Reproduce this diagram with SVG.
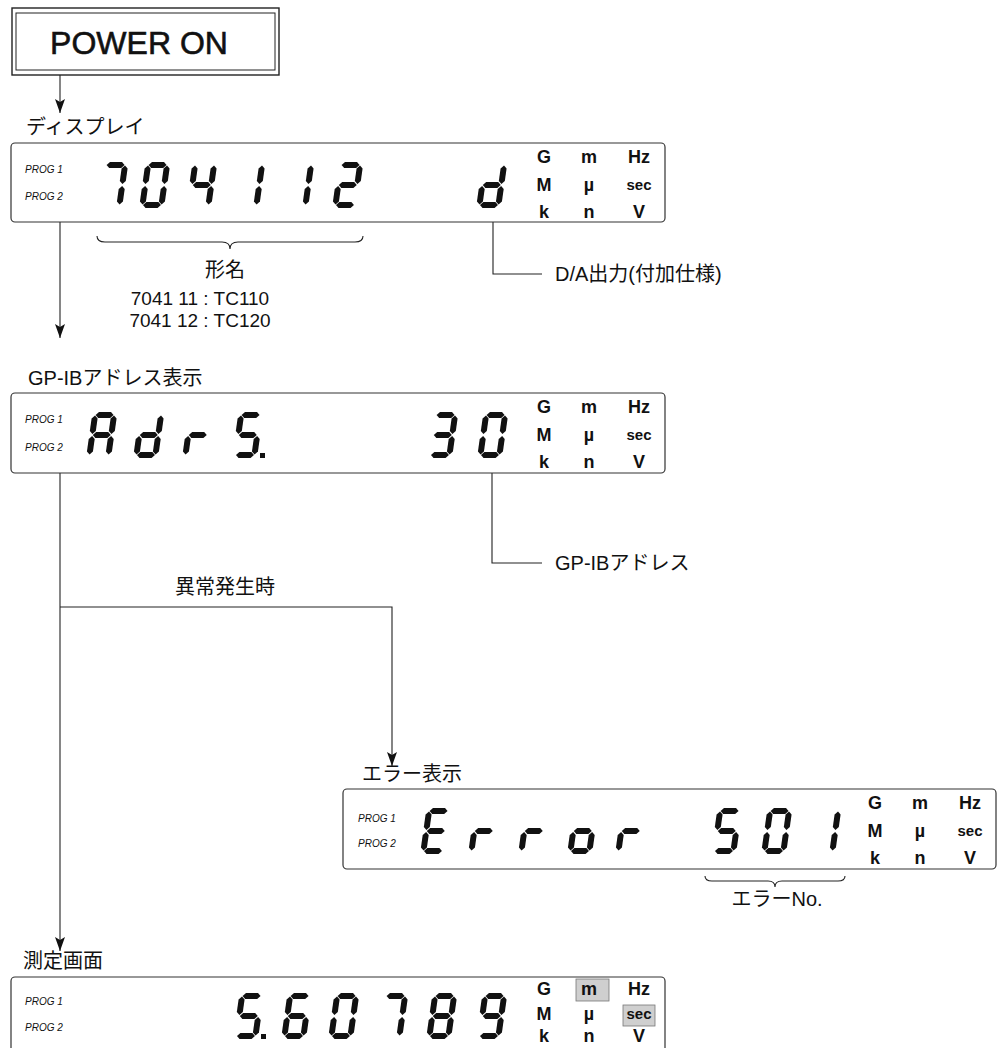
<svg xmlns="http://www.w3.org/2000/svg" xmlns:xlink="http://www.w3.org/1999/xlink" width="999" height="1048" viewBox="0 0 999 1048">
<style>
.lbl{font-family:"Liberation Sans","Noto Sans CJK JP",sans-serif;font-size:20px;fill:#111}
.prog{font-family:"Liberation Sans",sans-serif;font-size:10px;font-style:italic;fill:#111}
.unit{font-family:"Liberation Sans",sans-serif;font-size:18px;font-weight:bold;fill:#111;text-anchor:middle}
.sec{font-size:15px}
.lcd{fill:#fff;stroke:#333;stroke-width:1.2}
.seg{fill:#111}
.conn{stroke:#222;stroke-width:1.1;fill:none}
.arr{marker-end:url(#ah)}
.hl{fill:#cfcfcf;stroke:#777;stroke-width:0.8}
</style>
<defs>
<marker id="ah" viewBox="0 0 14 10" refX="14" refY="5" markerWidth="14" markerHeight="10" markerUnits="userSpaceOnUse" orient="auto">
<path d="M0,0 L14,5 L0,10 L3,5 z" fill="#111"/>
</marker>
<polygon id="sa" class="seg" points="3.5,3 6.5,0 18.5,0 21.5,3 18.5,6 6.5,6"/>
<polygon id="sg" class="seg" points="3.5,23 6.5,20 18.5,20 21.5,23 18.5,26 6.5,26"/>
<polygon id="sd" class="seg" points="3.5,43 6.5,40 18.5,40 21.5,43 18.5,46 6.5,46"/>
<polygon id="sf" class="seg" points="3,3.5 6,6.5 6,19 3,22 0,19 0,6.5"/>
<polygon id="sb" class="seg" points="22,3.5 25,6.5 25,19 22,22 19,19 19,6.5"/>
<polygon id="se" class="seg" points="3,24 6,27 6,39.5 3,42.5 0,39.5 0,27"/>
<polygon id="sc" class="seg" points="22,24 25,27 25,39.5 22,42.5 19,39.5 19,27"/>
<g id="d0"><use href="#sa"/><use href="#sb"/><use href="#sc"/><use href="#sd"/><use href="#se"/><use href="#sf"/></g>
<g id="d1"><use href="#sb"/><use href="#sc"/></g>
<g id="d2"><use href="#sa"/><use href="#sb"/><use href="#sg"/><use href="#se"/><use href="#sd"/></g>
<g id="d3"><use href="#sa"/><use href="#sb"/><use href="#sg"/><use href="#sc"/><use href="#sd"/></g>
<g id="d4"><use href="#sf"/><use href="#sg"/><use href="#sb"/><use href="#sc"/></g>
<g id="d5"><use href="#sa"/><use href="#sf"/><use href="#sg"/><use href="#sc"/><use href="#sd"/></g>
<g id="d6"><use href="#sa"/><use href="#sf"/><use href="#sg"/><use href="#se"/><use href="#sc"/><use href="#sd"/></g>
<g id="d7"><use href="#sa"/><use href="#sb"/><use href="#sc"/></g>
<g id="d8"><use href="#sa"/><use href="#sb"/><use href="#sc"/><use href="#sd"/><use href="#se"/><use href="#sf"/><use href="#sg"/></g>
<g id="d9"><use href="#sa"/><use href="#sb"/><use href="#sc"/><use href="#sd"/><use href="#sf"/><use href="#sg"/></g>
<g id="dA"><use href="#sa"/><use href="#sb"/><use href="#sc"/><use href="#se"/><use href="#sf"/><use href="#sg"/></g>
<g id="dd"><use href="#sb"/><use href="#sc"/><use href="#sd"/><use href="#se"/><use href="#sg"/></g>
<g id="dr"><use href="#se"/><use href="#sg"/></g>
<g id="dE"><use href="#sa"/><use href="#sf"/><use href="#sg"/><use href="#se"/><use href="#sd"/></g>
<g id="do"><use href="#sc"/><use href="#sd"/><use href="#se"/><use href="#sg"/></g>
</defs>

<g id="power-on">
<rect x="12" y="8" width="267" height="67" fill="#fff" stroke="#222" stroke-width="1.4"/>
<rect x="16" y="13" width="259" height="57" fill="none" stroke="#222" stroke-width="1"/>
<text x="139" y="54" text-anchor="middle" style="font-family:'Liberation Sans',sans-serif;font-size:32px;fill:#111;stroke:#111;stroke-width:0.6">POWER ON</text>
</g>

<g id="connectors">
<line class="conn arr" x1="60" y1="75" x2="60" y2="113"/>
<line class="conn arr" x1="60" y1="222" x2="60" y2="338"/>
<line class="conn arr" x1="60" y1="473" x2="60" y2="951"/>
<polyline class="conn arr" points="60,607 392,607 392,766"/>
<polyline class="conn" points="493,214 493,274 542,274"/>
<polyline class="conn" points="492,463 492,563 542,563"/>
<path class="conn" d="M97,236 Q97,242 105,242 L222,242 Q230,242 230,249 Q230,242 238,242 L355,242 Q363,242 363,236"/>
<path class="conn" d="M705,876 Q705,881 712,881 L768,881 Q775,881 775,887 Q775,881 782,881 L838,881 Q845,881 845,876"/>
</g>

<g id="display-model">
<text class="lbl" x="26" y="134">ディスプレイ</text>
<rect class="lcd" x="11" y="143" width="654" height="79" rx="4"/>
<text class="prog" x="25" y="173">PROG 1</text>
<text class="prog" x="25" y="200">PROG 2</text>
<use href="#d7" transform="translate(103.5,162) skewX(-8)"/>
<use href="#d0" transform="translate(145.5,162) skewX(-8)"/>
<use href="#d4" transform="translate(192.5,162) skewX(-8)"/>
<use href="#d1" transform="translate(240.5,162) skewX(-8)"/>
<use href="#d1" transform="translate(289.5,162) skewX(-8)"/>
<use href="#d2" transform="translate(338.5,162) skewX(-8)"/>
<use href="#dd" transform="translate(482.5,162) skewX(-8)"/>
<text class="unit" x="544" y="163">G</text><text class="unit" x="589" y="163">m</text><text class="unit" x="639" y="163">Hz</text>
<text class="unit" x="544" y="191">M</text><text class="unit" x="589" y="191">µ</text><text class="unit sec" x="639" y="190">sec</text>
<text class="unit" x="544" y="218">k</text><text class="unit" x="589" y="218">n</text><text class="unit" x="639" y="218">V</text>
<text class="lbl" x="225" y="277" text-anchor="middle">形名</text>
<text class="lbl" x="200" y="305" text-anchor="middle" style="font-size:19px">7041 11 : TC110</text>
<text class="lbl" x="200" y="327" text-anchor="middle" style="font-size:19px">7041 12 : TC120</text>
<text class="lbl" x="555" y="281">D/A出力(付加仕様)</text>
</g>

<g id="display-gpib">
<text class="lbl" x="28" y="385">GP-IBアドレス表示</text>
<rect class="lcd" x="11" y="393" width="654" height="80" rx="4"/>
<text class="prog" x="25" y="423">PROG 1</text>
<text class="prog" x="25" y="451">PROG 2</text>
<use href="#dA" transform="translate(92.5,412) skewX(-8)"/>
<use href="#dd" transform="translate(139.5,412) skewX(-8)"/>
<use href="#dr" transform="translate(188.5,412) skewX(-8)"/>
<use href="#d5" transform="translate(238.5,412) skewX(-8)"/>
<rect class="seg" x="260" y="453" width="5" height="5"/>
<use href="#d3" transform="translate(433.5,412) skewX(-8)"/>
<use href="#d0" transform="translate(483.5,412) skewX(-8)"/>
<text class="unit" x="544" y="413">G</text><text class="unit" x="589" y="413">m</text><text class="unit" x="639" y="413">Hz</text>
<text class="unit" x="544" y="441">M</text><text class="unit" x="589" y="441">µ</text><text class="unit sec" x="639" y="440">sec</text>
<text class="unit" x="544" y="468">k</text><text class="unit" x="589" y="468">n</text><text class="unit" x="639" y="468">V</text>
<text class="lbl" x="555" y="570">GP-IBアドレス</text>
</g>

<g id="branch-label">
<text class="lbl" x="175" y="594">異常発生時</text>
</g>

<g id="display-error">
<text class="lbl" x="362" y="781">エラー表示</text>
<rect class="lcd" x="343" y="789" width="653" height="80" rx="4"/>
<text class="prog" x="358" y="822">PROG 1</text>
<text class="prog" x="358" y="847">PROG 2</text>
<use href="#dE" transform="translate(426.5,808) skewX(-8)"/>
<use href="#dr" transform="translate(474.5,808) skewX(-8)"/>
<use href="#dr" transform="translate(524.5,808) skewX(-8)"/>
<use href="#do" transform="translate(573.5,808) skewX(-8)"/>
<use href="#dr" transform="translate(621.5,808) skewX(-8)"/>
<use href="#d5" transform="translate(717.5,808) skewX(-8)"/>
<use href="#d0" transform="translate(767.5,808) skewX(-8)"/>
<use href="#d1" transform="translate(816.5,808) skewX(-8)"/>
<text class="unit" x="875" y="809">G</text><text class="unit" x="920" y="809">m</text><text class="unit" x="970" y="809">Hz</text>
<text class="unit" x="875" y="837">M</text><text class="unit" x="920" y="837">µ</text><text class="unit sec" x="970" y="836">sec</text>
<text class="unit" x="875" y="864">k</text><text class="unit" x="920" y="864">n</text><text class="unit" x="970" y="864">V</text>
<text class="lbl" x="777" y="906" text-anchor="middle">エラーNo.</text>
</g>

<g id="display-measure">
<text class="lbl" x="23" y="968">測定画面</text>
<rect class="lcd" x="11" y="977" width="654" height="90" rx="4"/>
<text class="prog" x="25" y="1005">PROG 1</text>
<text class="prog" x="25" y="1031">PROG 2</text>
<use href="#d5" transform="translate(239.5,993) skewX(-8)"/>
<rect class="seg" x="261" y="1034" width="5" height="5"/>
<use href="#d6" transform="translate(287.5,993) skewX(-8)"/>
<use href="#d0" transform="translate(334.5,993) skewX(-8)"/>
<use href="#d7" transform="translate(383.5,993) skewX(-8)"/>
<use href="#d8" transform="translate(432.5,993) skewX(-8)"/>
<use href="#d9" transform="translate(482.5,993) skewX(-8)"/>
<rect class="hl" x="576" y="979" width="33" height="22"/>
<rect class="hl" x="623" y="1005" width="32" height="21"/>
<text class="unit" x="544" y="995">G</text><text class="unit" x="589" y="995">m</text><text class="unit" x="639" y="995">Hz</text>
<text class="unit" x="544" y="1020">M</text><text class="unit" x="589" y="1020">µ</text><text class="unit sec" x="639" y="1019">sec</text>
<text class="unit" x="544" y="1042">k</text><text class="unit" x="589" y="1042">n</text><text class="unit" x="639" y="1042">V</text>
</g>
</svg>
